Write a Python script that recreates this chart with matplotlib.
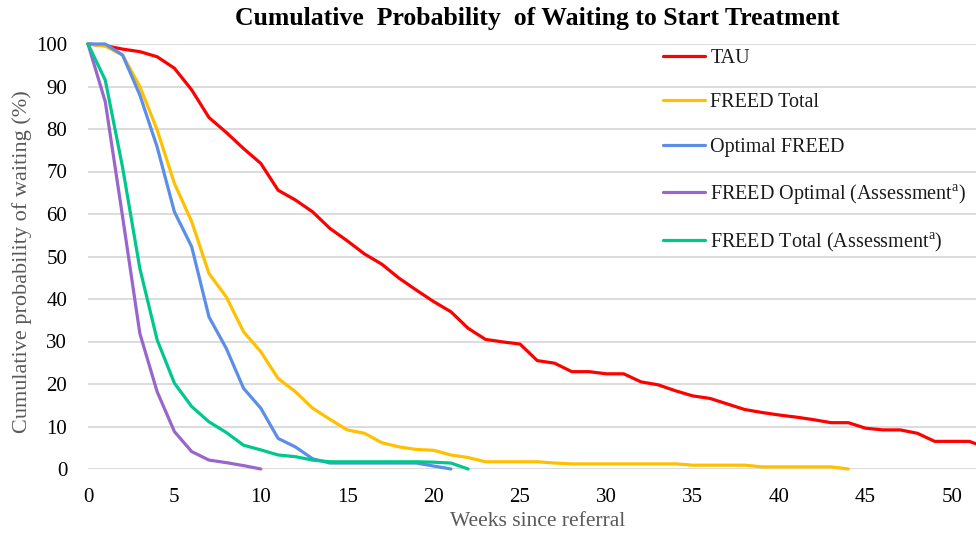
import matplotlib
matplotlib.use("Agg")
import matplotlib.pyplot as plt

# ---------------- data ----------------
tau_weeks = list(range(0, 53))
tau = [100, 99.6, 98.8, 98.2, 97.0, 94.3, 89.2, 82.7, 79.2, 75.4, 71.9, 65.6, 63.3,
       60.5, 56.6, 53.7, 50.6, 48.2, 44.9, 42.1, 39.4, 37.0, 33.1, 30.5, 29.9, 29.4,
       25.5, 24.9, 22.9, 22.9, 22.4, 22.4, 20.5, 19.8, 18.4, 17.2, 16.6, 15.3, 14.0,
       13.3, 12.7, 12.2, 11.6, 10.9, 10.9, 9.6, 9.2, 9.2, 8.4, 6.5, 6.5, 6.5, 5.0]

freed_total_weeks = list(range(0, 45))
freed_total = [100, 99.5, 97.4, 90.0, 79.8, 67.2, 58.2, 46.0, 40.5, 32.3, 27.6, 21.3,
               18.2, 14.3, 11.7, 9.2, 8.4, 6.2, 5.2, 4.6, 4.4, 3.3, 2.7, 1.7, 1.7,
               1.7, 1.7, 1.4, 1.2, 1.2, 1.2, 1.2, 1.2, 1.2, 1.2, 0.9, 0.9, 0.9, 0.9,
               0.5, 0.5, 0.5, 0.5, 0.5, 0.0]

optimal_weeks = list(range(0, 22))
optimal = [100, 100, 97.4, 88.0, 75.8, 60.5, 52.3, 35.8, 28.4, 19.0, 14.3, 7.2, 5.2,
           2.4, 1.4, 1.4, 1.4, 1.4, 1.4, 1.4, 0.7, 0.0]

opt_assess_weeks = list(range(0, 11))
opt_assess = [100, 86.4, 59.4, 31.9, 18.2, 8.8, 4.1, 2.1, 1.5, 0.8, 0.0]

tot_assess_weeks = list(range(0, 23))
tot_assess = [100, 91.5, 71.0, 47.2, 30.4, 20.2, 14.7, 11.1, 8.6, 5.6, 4.5, 3.3, 2.9,
              2.1, 1.7, 1.7, 1.7, 1.7, 1.7, 1.7, 1.6, 1.4, 0.0]

series_labels = ["TAU", "FREED Total", "Optimal FREED",
                 "FREED Optimal (Assessment$^{\\mathregular{a}}$)",
                 "FREED Total (Assessment$^{\\mathregular{a}}$)"]
series_colors = ["#FF0000", "#FFC000", "#5B8EE6", "#9966CC", "#00C78C"]

x_ticks = [0, 5, 10, 15, 20, 25, 30, 35, 40, 45, 50]
y_ticks = [0, 10, 20, 30, 40, 50, 60, 70, 80, 90, 100]

# ---------------- plot ----------------
plt.rcParams["font.family"] = ["Liberation Serif", "DejaVu Serif"]
plt.rcParams["mathtext.fontset"] = "custom"
plt.rcParams["mathtext.rm"] = "Liberation Serif"

W, H = 976, 537
fig = plt.figure(figsize=(W / 100, H / 100), dpi=100)
ax = fig.add_axes([88 / W, 1 - 469 / H, (W - 88) / W, (469 - 44) / H])

data = [(tau_weeks, tau), (freed_total_weeks, freed_total), (optimal_weeks, optimal),
        (opt_assess_weeks, opt_assess), (tot_assess_weeks, tot_assess)]
for (xs, ys), lab, col in zip(data, series_labels, series_colors):
    ax.plot(xs, ys, color=col, lw=2.3, label=lab, solid_joinstyle="round",
            solid_capstyle="round", clip_on=False, zorder=3)

ax.set_xlim(0, (W - 88) / 17.28)
ax.set_ylim(0, 100)
ax.set_xticks(x_ticks)
ax.set_yticks(y_ticks)
ax.grid(axis="y", color="#D9D9D9", lw=1.3, zorder=0)
ax.set_axisbelow(True)
for s in ax.spines.values():
    s.set_visible(False)
ax.tick_params(axis="both", length=0, labelsize=15, colors="black")
ax.tick_params(axis="y", pad=15)
ax.tick_params(axis="x", pad=14)

fig.text(538 / W, 1 - 522 / H, "Weeks since referral", ha="center", va="center",
         fontsize=15.5, color="#595959")
fig.text(22 / W, 1 - 262 / H, "Cumulative probability of waiting (%)", rotation=90,
         ha="center", va="center", fontsize=16, color="#595959")

fig.text(537 / W, 1 - 19 / H, "Cumulative  Probability  of Waiting to Start Treatment",
         ha="center", va="center", fontsize=18.5, fontweight="bold", color="black")

leg = fig.legend(loc="upper left", bbox_to_anchor=(663 / W, 1 - 49 / H),
                 frameon=False, fontsize=14.5, handlelength=2.1, handletextpad=0.25,
                 labelspacing=1.25, borderpad=0, borderaxespad=0)
for t in leg.get_texts():
    t.set_color("#1A1A1A")

fig.savefig("out.png", dpi=100)
